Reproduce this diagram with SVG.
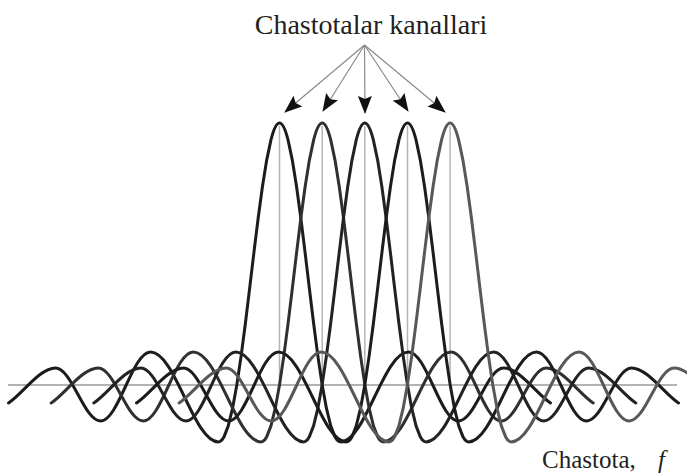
<svg xmlns="http://www.w3.org/2000/svg" width="687" height="475" viewBox="0 0 687 475">
<style>
.curve{fill:none;stroke-width:3;stroke-linejoin:round;stroke-linecap:round}
.guide{stroke:#b4b4b4;stroke-width:1.5}
.axis{stroke:#9a9a9a;stroke-width:1.5}
.arrow{stroke:#8a8a8a;stroke-width:1.2;fill:none}
.lbl{font-family:"Liberation Serif","Times New Roman",serif;fill:#231f20}
</style>
<defs>
<marker id="ah" markerUnits="userSpaceOnUse" markerWidth="18" markerHeight="14" viewBox="0 0 18 14" refX="17" refY="7" orient="auto">
<path d="M0,0 L18,7 L0,14 L3,7 z" fill="#111"/>
</marker>
<path id="sinc" d="M-271,403 C-258,395 -240,368 -224,368 C-207.6,368 -195.4,421 -179,421 C-160.8,421 -147.2,352 -129,352 C-104.2,352 -85.8,442 -61.06,441.9 L-59.78,441.65 L-57.65,440.04 L-55.51,436.9 L-51.24,425.85 L-46.97,408.43 L-42.7,385 L-38.43,356.37 L-34.16,323.73 L-29.89,288.61 L-25.62,252.81 L-21.35,218.21 L-17.08,186.71 L-12.81,160.1 L-8.54,139.9 Q0,106 8.54,139.9 L12.81,160.1 L17.08,186.71 L21.35,218.21 L25.62,252.81 L29.89,288.61 L34.16,323.73 L38.43,356.37 L42.7,385 L46.97,408.43 L51.24,425.85 L55.51,436.9 L57.65,440.04 L59.78,441.65 L61.06,441.9 C85.8,442 104.2,352 129,352 C147.2,352 160.8,421 179,421 C195.4,421 207.6,368 224,368 C240,368 258,395 271,403"/>
</defs>
<g id="axis">
<line class="axis" x1="8" y1="385" x2="677" y2="385"/>
</g>
<g id="guides">
<line class="guide" x1="279.5" y1="126" x2="279.5" y2="378"/>
<line class="guide" x1="322.2" y1="126" x2="322.2" y2="378"/>
<line class="guide" x1="364.8" y1="126" x2="364.8" y2="378"/>
<line class="guide" x1="407.5" y1="126" x2="407.5" y2="378"/>
<line class="guide" x1="450.1" y1="126" x2="450.1" y2="378"/>
</g>
<g id="carriers">
<g id="carrier-1"><use href="#sinc" x="279.5" class="curve" stroke="#1c1c1c"/></g>
<g id="carrier-2"><use href="#sinc" x="322.2" class="curve" stroke="#303030"/></g>
<g id="carrier-3"><use href="#sinc" x="364.8" class="curve" stroke="#222222"/></g>
<g id="carrier-4"><use href="#sinc" x="407.5" class="curve" stroke="#1c1c1c"/></g>
<g id="carrier-5"><use href="#sinc" x="450.1" class="curve" stroke="#585858"/></g>
</g>
<g id="connectors">
<line class="arrow" x1="364.5" y1="45" x2="285" y2="112" marker-end="url(#ah)"/>
<line class="arrow" x1="364.5" y1="45" x2="323" y2="111" marker-end="url(#ah)"/>
<line class="arrow" x1="364.5" y1="45" x2="365" y2="113" marker-end="url(#ah)"/>
<line class="arrow" x1="364.5" y1="45" x2="408" y2="111" marker-end="url(#ah)"/>
<line class="arrow" x1="364.5" y1="45" x2="445" y2="112" marker-end="url(#ah)"/>
</g>
<g id="label-channels">
<text class="lbl" x="371" y="34" font-size="28" text-anchor="middle">Chastotalar kanallari</text>
</g>
<g id="label-frequency">
<text class="lbl" x="542" y="468" font-size="25">Chastota,</text>
<text class="lbl" x="658" y="468" font-size="25" font-style="italic">f</text>
</g>
</svg>
